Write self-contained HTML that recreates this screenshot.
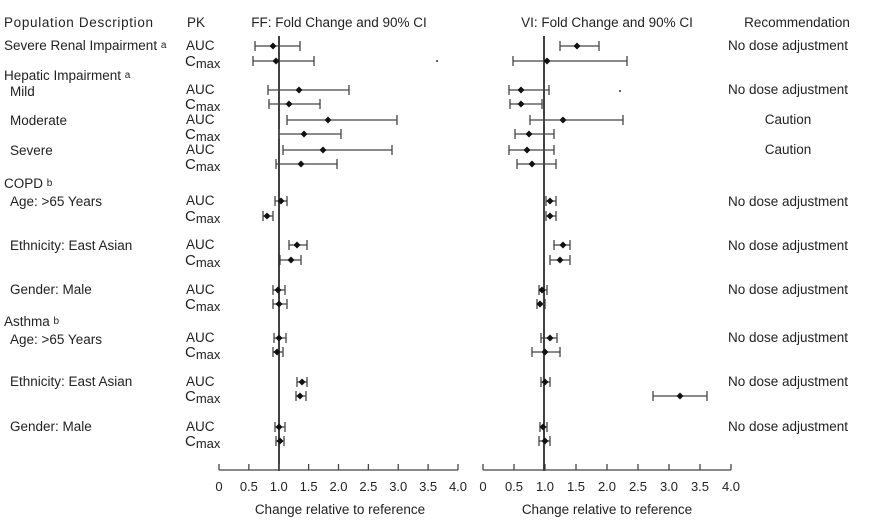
<!DOCTYPE html>
<html><head><meta charset="utf-8"><style>
body{margin:0;background:#fff}
svg{display:block;font-family:"Liberation Sans",sans-serif;font-size:13.5px;fill:#222}
</style></head><body>
<svg id="s" width="886" height="524" viewBox="0 0 886 524">
<g stroke="#444" stroke-width="1.3" fill="none" id="g">
<line x1="279" y1="36" x2="279" y2="471" stroke="#111" stroke-width="1.6"/>
<line x1="544" y1="36" x2="544" y2="471" stroke="#111" stroke-width="1.6"/>
<line x1="219" y1="470" x2="458" y2="470"/>
<line x1="483" y1="470" x2="731" y2="470"/>
</g>
<g id="t">
<text x="4" y="27" textLength="149">Population Description</text>
<text x="187" y="27">PK</text>
<text x="339" y="27" text-anchor="middle">FF: Fold Change and 90% CI</text>
<text x="607" y="27" text-anchor="middle">VI: Fold Change and 90% CI</text>
<text x="797" y="27" text-anchor="middle">Recommendation</text>
<text x="4" y="50">Severe Renal Impairment <tspan font-size="10" dy="-2">a</tspan></text>
<text x="4" y="80">Hepatic Impairment <tspan font-size="10" dy="-2">a</tspan></text>
<text x="10" y="96">Mild</text>
<text x="10" y="125">Moderate</text>
<text x="10" y="155">Severe</text>
<text x="4" y="188">COPD <tspan font-size="10" dy="-2">b</tspan></text>
<text x="10" y="206">Age: &gt;65 Years</text>
<text x="10" y="250">Ethnicity: East Asian</text>
<text x="10" y="294">Gender: Male</text>
<text x="4" y="326">Asthma <tspan font-size="10" dy="-2">b</tspan></text>
<text x="10" y="344">Age: &gt;65 Years</text>
<text x="10" y="386">Ethnicity: East Asian</text>
<text x="10" y="431">Gender: Male</text>
<g text-anchor="middle">
<text x="788" y="50">No dose adjustment</text>
<text x="788" y="94">No dose adjustment</text>
<text x="788" y="124">Caution</text>
<text x="788" y="154">Caution</text>
<text x="788" y="206">No dose adjustment</text>
<text x="788" y="250">No dose adjustment</text>
<text x="788" y="294">No dose adjustment</text>
<text x="788" y="342">No dose adjustment</text>
<text x="788" y="386">No dose adjustment</text>
<text x="788" y="431">No dose adjustment</text>
<text x="340" y="514">Change relative to reference</text>
<text x="607" y="514">Change relative to reference</text>
</g>
</g>
</svg>
<script>
const ns="http://www.w3.org/2000/svg",g=document.getElementById('g'),t=document.getElementById('t');
function el(p,n,a,tx){const e=document.createElementNS(ns,n);for(const k in a)e.setAttribute(k,a[k]);if(tx!=null)e.textContent=tx;p.appendChild(e);return e;}
const labels=["0","0.5","1.0","1.5","2.0","2.5","3.0","3.5","4.0"];
[[219,458],[483,731]].forEach(([a,b])=>{for(let i=0;i<9;i++){const x=a+(b-a)*i/8;el(g,'line',{x1:x,y1:464,x2:x,y2:470});el(t,'text',{x:x,y:491,'text-anchor':'middle','font-size':'13'},labels[i]);}});
const ys=[46,61,90,104,120,134,150,164,201,216,245,260,290,304,338,352,382,396,427,441];
const ff=[[255,300,273],[253,314,276],[268,349,299],[269,320,289],[287,397,328],[279,341,304],[283,392,323],[276,337,301],[275,287,281],[263,273,267],[289,307,297],[280,301,291],[273,285,278],[273,287,279],[274,286,279],[273,283,277],[297,307,302],[296,306,300],[275,285,279],[276,284,280]];
const vi=[[560,599,577],[513,627,547],[509,549,521],[510,542,521],[530,623,563],[515,554,529],[509,554,527],[517,556,532],[546,556,550],[546,556,550],[554,570,563],[550,570,560],[539,547,542],[537,545,540],[541,557,550],[532,560,545],[541,550,545],[653,707,680],[540,547,543],[539,550,545]];
ys.forEach((y,i)=>{
 const auc=i%2==0;
 if(auc) el(t,'text',{x:186,y:y+4},'AUC');
 else {const e=el(t,'text',{x:185,y:y+5,'font-size':'15'},'C');el(e,'tspan',{'font-size':'13',dy:'2'},'max');}
 [ff[i],vi[i]].forEach(([a,b,c])=>{
  el(g,'line',{x1:a,y1:y,x2:b,y2:y});
  el(g,'line',{x1:a,y1:y-5,x2:a,y2:y+5});
  el(g,'line',{x1:b,y1:y-5,x2:b,y2:y+5});
  el(g,'polygon',{points:`${c},${y-3.5} ${c+3.5},${y} ${c},${y+3.5} ${c-3.5},${y}`,fill:'#111',stroke:'none'});
 });
});
el(g,'circle',{cx:437,cy:61,r:1,fill:'#333',stroke:'none'});
el(g,'circle',{cx:620,cy:91,r:1,fill:'#333',stroke:'none'});
</script>
</body></html>
